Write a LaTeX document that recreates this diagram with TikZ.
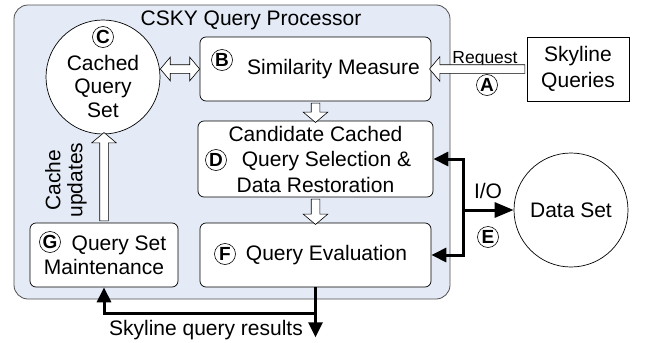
\documentclass[tikz,border=0pt]{standalone}
\usepackage{fontspec}
\setmainfont{Liberation Sans}
\usetikzlibrary{calc,arrows.meta,shapes.arrows}
\definecolor{panelblue}{HTML}{E4EBF6}
\definecolor{framegray}{HTML}{505050}
\newcommand{\txtbig}{\fontsize{21}{24}\selectfont}
\newcommand{\txtsmall}{\fontsize{17.5}{20}\selectfont}
\tikzset{
  panel/.style={draw=framegray, fill=panelblue, line width=0.8pt, rounded corners=14pt, inner sep=0pt},
  box/.style={draw, fill=white, line width=0.7pt, rounded corners=6pt, inner sep=0pt, align=center, font=\txtbig},
  sbox/.style={draw, fill=white, line width=0.7pt, inner sep=0pt, align=center, font=\txtbig},
  disc/.style={circle, draw, fill=white, line width=0.7pt, inner sep=0pt, minimum size=114pt, font=\txtbig},
  lab/.style={inner sep=0pt, align=center, font=\txtbig},
  labs/.style={inner sep=0pt, font=\txtsmall},
  tag/.style={circle, draw, line width=0.6pt, inner sep=0pt, minimum size=21pt, font=\bfseries\fontsize{19}{19}\selectfont},
  io/.style={line width=3pt, line join=miter},
  hollow/.style={single arrow, draw, fill=white, line width=0.6pt, inner xsep=0pt, inner ysep=4pt, minimum width=24pt,
    single arrow head extend=8pt, single arrow tip angle=100},
  hollowboth/.style={double arrow, draw, fill=white, line width=0.6pt, inner xsep=0pt, inner ysep=4pt, minimum width=23pt,
    double arrow head extend=7.5pt, double arrow tip angle=100},
}
\newcommand{\hollowto}[3][hollow]{%
  \path let \p1=(#2), \p2=(#3), \n1={atan2(\y2-\y1,\x2-\x1)}, \n2={veclen(\x2-\x1,\y2-\y1)} in
    node[#1, minimum height=\n2, rotate=\n1] at ($(\p1)!0.5!(\p2)$) {};}

\begin{document}
\begin{tikzpicture}[x=1pt,y=-1pt,>={Triangle[length=15pt,width=14pt]}]
  \useasboundingbox (0,0) rectangle (646,343);
  \node[panel, minimum width=436pt, minimum height=294pt] (proc) at (232,152) {};
  \node[lab, anchor=base] (title) at (251,25) {CSKY Query Processor};

  \node[disc] (cache) at (103,77) {};
  \node[lab, font=\fontsize{21}{23.5}\selectfont] (cachetxt) at (103,86) {Cached\\Query\\Set};
  \node[box, minimum width=231pt, minimum height=64pt] (sim) at (315.5,69) {\hspace*{36pt}Similarity Measure};
  \node[sbox, minimum width=102pt, minimum height=64pt, font=\fontsize{21}{26}\selectfont] (sky) at (578,69) {Skyline\\Queries};
  \node[box, minimum width=235pt, minimum height=76pt, font=\fontsize{21}{25.5}\selectfont] (cand) at (315.5,159)
    {Candidate Cached\\\hspace*{22pt}Query Selection \&\\Data Restoration};
  \node[box, minimum width=231pt, minimum height=64pt] (eval) at (315.5,255) {\hspace*{22pt}Query Evaluation};
  \node[box, minimum width=148pt, minimum height=64pt] (maint) at (104,255) {\hspace*{30pt}Query Set\\Maintenance};
  \node[disc] (data) at (571,210) {Data Set};

  \node[tag] (tagA) at (487,85) {A};
  \node[tag] (tagB) at (222,60) {B};
  \node[tag] (tagC) at (103,37) {C};
  \node[tag] (tagD) at (216,160) {D};
  \node[tag] (tagE) at (488,237) {E};
  \node[tag] (tagF) at (225,254) {F};
  \node[tag] (tagG) at (50,242) {G};

  \node[labs, anchor=base] (req) at (485,63) {Request};
  \node[lab, anchor=base] (iolab) at (488,198) {I/O};
  \node[lab, rotate=90, font=\fontsize{21}{22}\selectfont] (upd) at (66,180) {Cache\\updates};
  \node[lab, anchor=base] (reslab) at (206,335) {Skyline query results};

  \hollowto{sky.west}{sim.east}
  \hollowto[hollowboth]{cache.east |- sim.west}{sim.west}
  \hollowto{sim.south}{cand.north}
  \hollowto{cand.south}{eval.north}
  \hollowto{maint.north}{maint.north |- cache.south}

  \coordinate (bus) at (463,210);
  \draw[io,<->] (cand.east) -| (bus) |- (eval.east);
  \draw[io,-{Triangle[length=19pt,width=15pt]}] (bus) -- (data);
  \coordinate (res) at ($(eval.south)+(0,26)$);
  \coordinate (out) at ($(res)+(0,24)$);
  \draw[io,->] (eval.south) -- (res) -| (maint.south);
  \draw[io,->] (res) -- (out);
\end{tikzpicture}
\end{document}
